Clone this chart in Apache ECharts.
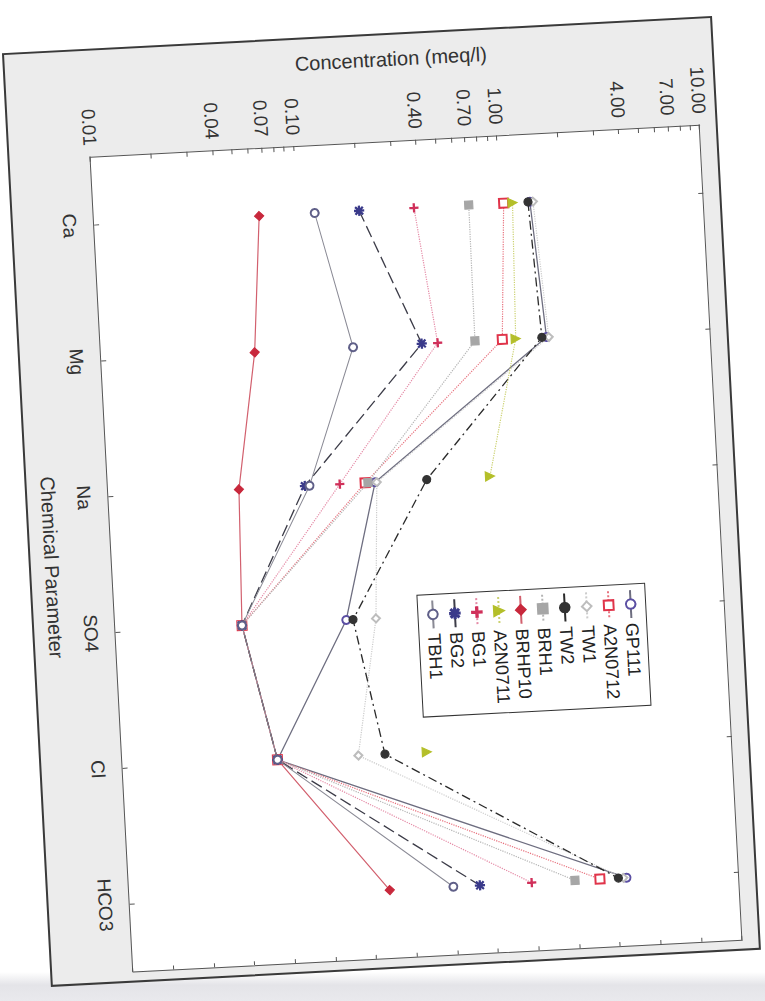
<!DOCTYPE html>
<html><head><meta charset="utf-8">
<script src="https://cdn.jsdelivr.net/npm/echarts@6/dist/echarts.min.js"></script>
<style>
html,body{margin:0;padding:0;background:#fff;width:765px;height:1001px;overflow:hidden;}
#band{position:absolute;left:0;top:972px;width:765px;height:29px;background:linear-gradient(#fff,#e4e4e8 45%,#e9e9ed);}
#wrap{position:absolute;left:0;top:0;width:935px;height:711px;transform-origin:0 0;transform:translate(712px,16px) rotate(87deg);}
#frame{position:absolute;left:0;top:0;width:935px;height:711px;box-sizing:border-box;border:2px solid #3a3a3a;background:#ececec;}
#chart{position:absolute;left:0;top:0;width:935px;height:711px;}
</style></head>
<body>
<div id="band"></div>
<div id="wrap"><div id="frame"></div><div id="chart"></div></div>
<script>
// ---- data ----
const categories = ['Ca', 'Mg', 'Na', 'SO4', 'Cl', 'HCO3'];
const tickLabels = [0.01, 0.04, 0.07, 0.1, 0.4, 0.7, 1, 4, 7, 10];
const minorTicks = [0.01, 0.02, 0.03, 0.04, 0.05, 0.06, 0.07, 0.08, 0.09,
                    0.1, 0.2, 0.3, 0.4, 0.5, 0.6, 0.7, 0.8, 0.9,
                    1, 2, 3, 4, 5, 6, 7, 8, 9, 10];
const seriesNames = ['GP111', 'A2N0712', 'TW1', 'TW2', 'BRH1', 'BRHP10', 'A2N0711', 'BG1', 'BG2', 'TBH1'];
const GP111   = [1.40, 1.56, 0.206, 0.137, 0.058, 2.80];
const A2N0712 = [1.04, 0.945, 0.184, 0.042, 0.058, 2.07];
const TW1     = [1.45, 1.60, 0.21, 0.192, 0.145, 2.70];
const TW2     = [1.37, 1.48, 0.37, 0.148, 0.196, 2.55];
const BRH1    = [0.70, 0.693, 0.19, 0.042, 0.058, 1.56];
const BRHP10  = [0.065, 0.057, 0.044, 0.042, 0.058, 0.191];
const A2N0711 = [1.15, 1.10, 0.758, null, 0.315, null];
const BG1     = [0.376, 0.454, 0.138, 0.042, 0.058, 0.955];
const BG2     = [0.202, 0.379, 0.093, 0.042, 0.058, 0.531];
const TBH1    = [0.122, 0.174, 0.098, 0.042, 0.058, 0.393];
const seriesValues = [GP111, A2N0712, TW1, TW2, BRH1, BRHP10, A2N0711, BG1, BG2, TBH1];

// ---- styles ----
const PLUS = 'path://M4.3,0H5.7V4.3H10V5.7H5.7V10H4.3V5.7H0V4.3H4.3Z';
const STAR = 'path://M4.4,0H5.6V4.4H10V5.6H5.6V10H4.4V5.6H0V4.4H4.4Z M1.6,0.8L9.2,8.4L8.4,9.2L0.8,1.6Z M8.4,0.8L9.2,1.6L1.6,9.2L0.8,8.4Z';
const styles = {
  GP111:   {symbol:'emptyCircle',  size:8,  m:'#5b4fa3', l:'#6e6e80', w:1.3, dash:'solid'},
  A2N0712: {symbol:'emptyRect',    size:9,  m:'#e0344a', l:'#e8727e', w:1.2, dash:'dotted'},
  TW1:     {symbol:'emptyDiamond', size:8,  m:'#bdbdbd', l:'#cccccc', w:1.2, dash:'dotted'},
  TW2:     {symbol:'circle',       size:8,  m:'#333333', l:'#2a2a2a', w:1.3, dash:[9,4,2,4]},
  BRH1:    {symbol:'rect',         size:8,  m:'#a6a6a6', l:'#b4b4b4', w:1.2, dash:'dotted'},
  BRHP10:  {symbol:'diamond',      size:9,  m:'#c8283c', l:'#d2606e', w:1.2, dash:'solid'},
  A2N0711: {symbol:'triangle',     size:9,  m:'#b4bf2a', l:'#cbd170', w:1.2, dash:'dotted'},
  BG1:     {symbol:PLUS,           size:8,  m:'#d0305a', l:'#e58aa6', w:1.2, dash:'dotted'},
  BG2:     {symbol:STAR,           size:9,  m:'#3a3a8a', l:'#3c3c48', w:1.3, dash:[12,5]},
  TBH1:    {symbol:'emptyCircle',  size:8,  m:'#5f5f88', l:'#8a8a95', w:1.0, dash:'solid'}
};

const FONT = "'Liberation Sans', Arial, Helvetica, sans-serif";
const chart = echarts.init(document.getElementById('chart'), null, {renderer: 'svg'});

const series = seriesNames.map((name, i) => {
  const st = styles[name];
  return {
    name: name, type: 'line', xAxisIndex: 0, yAxisIndex: 0,
    data: seriesValues[i], connectNulls: false, showAllSymbol: true,
    symbol: st.symbol, symbolSize: st.size,
    itemStyle: {color: st.m, borderColor: st.m, borderWidth: 1.2},
    lineStyle: {color: st.l, width: st.w, type: st.dash},
    emphasis: {disabled: true}, z: 3 + i
  };
});

chart.setOption({
  animation: false,
  textStyle: {fontFamily: FONT},
  grid: {left: 108, top: 18, width: 816, height: 610, show: true, backgroundColor: '#ffffff', borderWidth: 0},
  legend: {
    orient: 'vertical', left: 563, top: 97,
    data: seriesNames,
    itemWidth: 28, itemHeight: 12, itemGap: 4,
    padding: [6, 8, 6, 5],
    backgroundColor: '#ffffff', borderColor: '#333333', borderWidth: 1,
    textStyle: {fontSize: 18, color: '#222222', fontFamily: FONT},
    selectedMode: false
  },
  xAxis: [{
    type: 'category', data: categories, position: 'bottom', boundaryGap: true,
    axisLine: {show: true, lineStyle: {color: '#555555', width: 1}},
    axisTick: {show: true, inside: true, alignWithLabel: true, length: 5, lineStyle: {color: '#555555'}},
    axisLabel: {margin: 15, fontSize: 19, color: '#333333', fontFamily: FONT},
    splitLine: {show: false},
    name: 'Chemical Parameter', nameLocation: 'middle', nameGap: 50,
    nameTextStyle: {fontSize: 20, color: '#333333', fontFamily: FONT}
  }, {
    type: 'category', data: categories, position: 'top', boundaryGap: true,
    axisLine: {show: true, lineStyle: {color: '#555555', width: 1}},
    axisTick: {show: true, inside: true, alignWithLabel: true, length: 5, lineStyle: {color: '#555555'}},
    axisLabel: {show: false}, splitLine: {show: false}
  }],
  yAxis: [{
    type: 'log', logBase: 10, min: 0.01, max: 10, position: 'left',
    axisLine: {show: true, lineStyle: {color: '#555555', width: 1}},
    axisTick: {show: true, inside: true, length: 5, customValues: minorTicks, lineStyle: {color: '#555555'}},
    axisLabel: {customValues: tickLabels, margin: 11, fontSize: 19, color: '#333333', fontFamily: FONT,
                formatter: v => Number(v).toFixed(2)},
    splitLine: {show: false},
    name: 'Concentration (meq/l)', nameLocation: 'middle', nameGap: 72,
    nameTextStyle: {fontSize: 20, color: '#333333', fontFamily: FONT}
  }, {
    type: 'value', min: 0, max: 15, interval: 1, position: 'right',
    axisLine: {show: true, lineStyle: {color: '#555555', width: 1}},
    axisTick: {show: true, inside: true, length: 4, lineStyle: {color: '#555555'}},
    axisLabel: {show: false}, splitLine: {show: false}
  }],
  series: series
});
</script>
</body></html>
